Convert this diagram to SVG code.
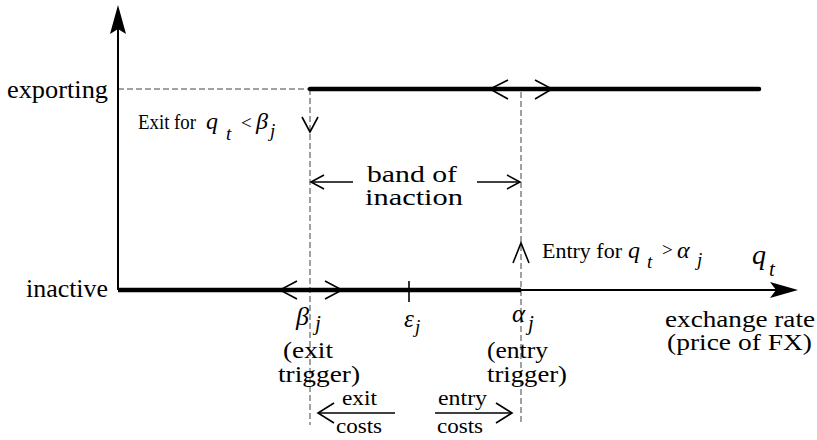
<svg xmlns="http://www.w3.org/2000/svg" width="817" height="440" viewBox="0 0 817 440">
<style>
  .it { font-style: italic; }
  .dash { stroke: #444; stroke-width: 1; stroke-dasharray: 6 3; fill: none; }
  .thick { stroke: #000; stroke-width: 4.5; fill: none; }
  .axis { stroke: #000; stroke-width: 2; fill: none; }
  .thin { stroke: #000; stroke-width: 1.6; fill: none; }
  .head { stroke: #000; stroke-width: 1.6; fill: none; stroke-linejoin: miter; }
</style>
<rect width="817" height="440" fill="#fff"/>

<g id="guides">
  <line class="dash" x1="118" y1="89" x2="310" y2="89"/>
  <line class="dash" x1="310" y1="89" x2="310" y2="425"/>
  <line class="dash" x1="521" y1="92" x2="521" y2="425"/>
</g>

<g id="axes">
  <line class="axis" x1="118" y1="290" x2="118" y2="22"/>
  <path d="M118,5 L126,34 L118,29 L110,34 Z" fill="#000"/>
  <line class="axis" x1="118" y1="290" x2="785" y2="290"/>
  <path d="M798,290 L770,282 L776,290 L770,298 Z" fill="#000"/>
</g>

<g id="connectors">
  <line class="thick" x1="310" y1="89" x2="759" y2="89" stroke-linecap="round"/>
  <line class="thick" x1="118" y1="290" x2="521" y2="290"/>
  <path class="head" d="M508,80 L490,89 L508,99"/>
  <path class="head" d="M535,80 L552,89 L535,99"/>
  <path class="head" d="M297,281 L280,290 L297,299"/>
  <path class="head" d="M325,281 L342,290 L325,299"/>
  <line class="thin" x1="409" y1="281" x2="409" y2="302"/>
  <path class="head" d="M302,117 L310,132 L318,117"/>
  <path class="head" d="M513,263 L521,243 L529,263"/>
  <line class="thin" x1="311" y1="182" x2="353" y2="182"/>
  <path class="head" d="M324,175 L311,182 L324,189"/>
  <line class="thin" x1="477" y1="182" x2="520" y2="182"/>
  <path class="head" d="M507,175 L520,182 L507,189"/>
  <line class="thin" x1="318" y1="413" x2="395" y2="413"/>
  <path class="head" d="M334,403 L318,413 L334,423"/>
  <line class="thin" x1="435" y1="413" x2="512" y2="413"/>
  <path class="head" d="M496,403 L512,413 L496,423"/>
</g>

<g font-family="'Liberation Serif', 'Times New Roman', serif" fill="#000">
<g id="exporting">
  <text x="7" y="98" font-size="26" textLength="101" lengthAdjust="spacingAndGlyphs">exporting</text>
</g>
<g id="inactive">
  <text x="26" y="297" font-size="26" textLength="82" lengthAdjust="spacingAndGlyphs">inactive</text>
</g>

<g id="exit-label">
  <text x="138" y="129" font-size="21" textLength="58" lengthAdjust="spacingAndGlyphs">Exit for</text>
  <text class="it" x="206" y="129" font-size="24">q</text>
  <text class="it" x="226" y="140" font-size="19">t</text>
  <text x="241" y="129" font-size="19">&lt;</text>
  <text class="it" x="256" y="129" font-size="24">β</text>
  <text class="it" x="270" y="137" font-size="19">j</text>
</g>

<g id="band">
  <text x="367" y="182" font-size="23" textLength="90" lengthAdjust="spacingAndGlyphs">band of</text>
  <text x="365" y="205" font-size="23" textLength="98" lengthAdjust="spacingAndGlyphs">inaction</text>
</g>

<g id="entry-label">
  <text x="542" y="258" font-size="21" textLength="80" lengthAdjust="spacingAndGlyphs">Entry for</text>
  <text class="it" x="628" y="258" font-size="24">q</text>
  <text class="it" x="647" y="268" font-size="19">t</text>
  <text x="662" y="256" font-size="19">&gt;</text>
  <text class="it" x="677" y="258" font-size="24">α</text>
  <text class="it" x="697" y="266" font-size="19">j</text>
</g>

<g id="qt-label">
  <text class="it" x="752" y="264" font-size="28">q</text>
  <text class="it" x="769" y="276" font-size="21">t</text>
</g>

<g id="beta">
  <text class="it" x="296" y="325" font-size="26">β</text>
  <text class="it" x="315" y="330" font-size="21">j</text>
  <text x="283" y="358" font-size="23" textLength="50" lengthAdjust="spacingAndGlyphs">(exit</text>
  <text x="278" y="382" font-size="23" textLength="82" lengthAdjust="spacingAndGlyphs">trigger)</text>
</g>

<g id="epsilon">
  <text class="it" x="404" y="327" font-size="25">ε</text>
  <text class="it" x="415" y="333" font-size="19">j</text>
</g>

<g id="alpha">
  <text class="it" x="512" y="322" font-size="25">α</text>
  <text class="it" x="528" y="330" font-size="21">j</text>
  <text x="487" y="358" font-size="23" textLength="61" lengthAdjust="spacingAndGlyphs">(entry</text>
  <text x="487" y="382" font-size="23" textLength="80" lengthAdjust="spacingAndGlyphs">trigger)</text>
</g>

<g id="exchange-rate">
  <text x="665" y="327" font-size="23" textLength="150" lengthAdjust="spacingAndGlyphs">exchange rate</text>
  <text x="667" y="350" font-size="23" textLength="145" lengthAdjust="spacingAndGlyphs">(price of FX)</text>
</g>

<g id="exit-costs">
  <text x="342" y="405" font-size="22" textLength="35" lengthAdjust="spacingAndGlyphs">exit</text>
  <text x="336" y="433" font-size="22" textLength="46" lengthAdjust="spacingAndGlyphs">costs</text>
</g>
<g id="entry-costs">
  <text x="438" y="405" font-size="22" textLength="49" lengthAdjust="spacingAndGlyphs">entry</text>
  <text x="437" y="433" font-size="22" textLength="46" lengthAdjust="spacingAndGlyphs">costs</text>
</g>
</g>
</svg>
